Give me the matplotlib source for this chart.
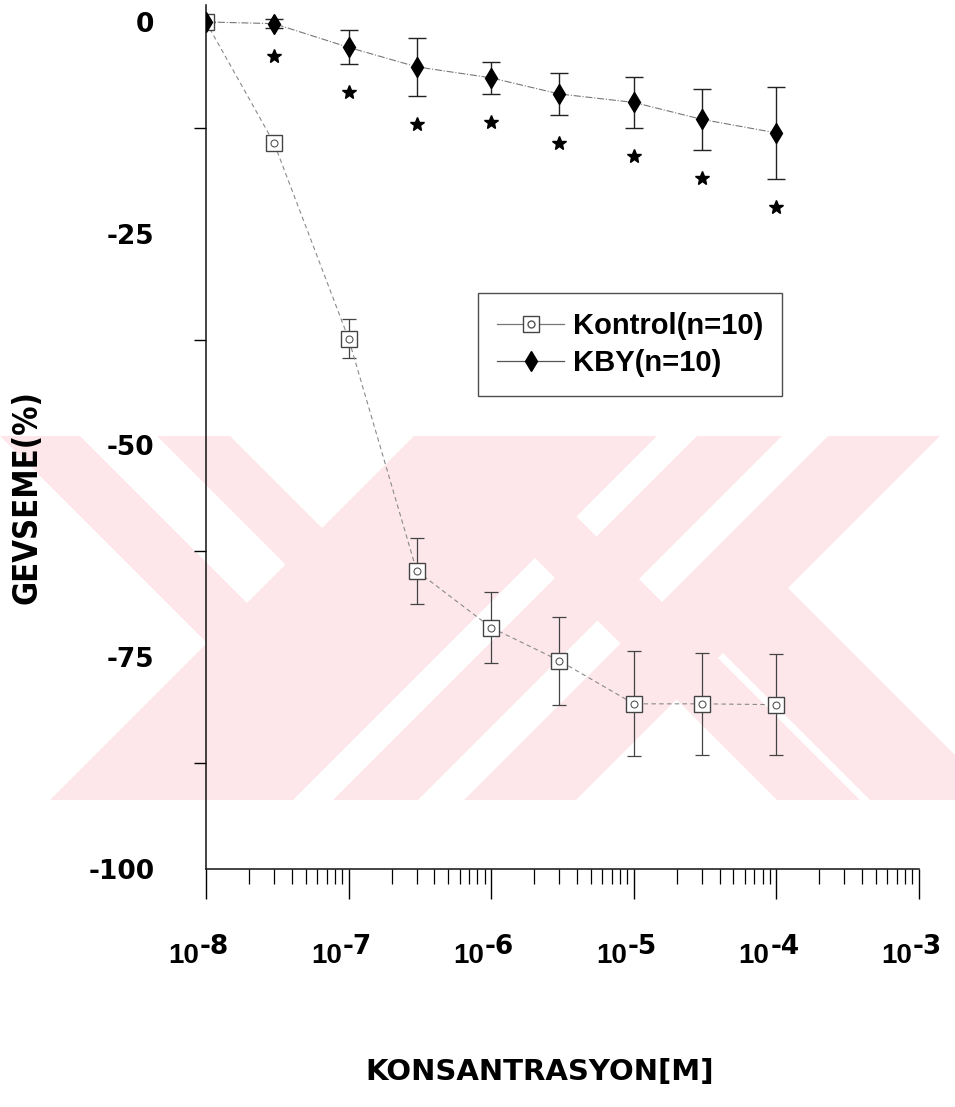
import matplotlib
matplotlib.use('Agg')
import matplotlib.pyplot as plt
from matplotlib.lines import Line2D
from matplotlib.legend_handler import HandlerTuple
from matplotlib.patches import Polygon
from matplotlib.transforms import Affine2D
from matplotlib.ticker import LogLocator, NullFormatter

# concentration-response data (mean and SEM, % relaxation)
conc = [1e-8, 3e-8, 1e-7, 3e-7, 1e-6, 3e-6, 1e-5, 3e-5, 1e-4]
kontrol = [0, -14.3, -37.4, -64.8, -71.5, -75.4, -80.5, -80.5, -80.6]
kontrol_err = [0, 0.8, 2.3, 3.9, 4.2, 5.2, 6.2, 6.0, 6.0]
kby = [0, -0.2, -3.0, -5.3, -6.6, -8.5, -9.5, -11.5, -13.1]
kby_err = [0, 0.5, 2.0, 3.4, 1.9, 2.5, 3.0, 3.6, 5.4]

series_labels = ['Kontrol(n=10)', 'KBY(n=10)']
ytick_vals = [0, -25, -50, -75, -100]
ytick_minor = [-12.5, -37.5, -62.5, -87.5]
xtick_exps = [-8, -7, -6, -5, -4, -3]
xlabel = 'KONSANTRASYON[M]'
ylabel = 'GEVSEME(%)'

W, H = 955, 1107
fig = plt.figure(figsize=(W / 100, H / 100), dpi=100)
px = Affine2D().scale(1 / W, -1 / H).translate(0, 1) + fig.transFigure


def clip(poly, f):
    # keep the part of poly where f(x, y) >= 0
    out = []
    for i in range(len(poly)):
        p, q = poly[i - 1], poly[i]
        fp, fq = f(*p), f(*q)
        if fq >= 0:
            if fp < 0:
                t = fp / (fp - fq)
                out.append((p[0] + t * (q[0] - p[0]), p[1] + t * (q[1] - p[1])))
            out.append(q)
        elif fp >= 0:
            t = fp / (fp - fq)
            out.append((p[0] + t * (q[0] - p[0]), p[1] + t * (q[1] - p[1])))
    return out


# pale background stamp built from 45 degree stripes
pink = '#fde7eb'
band = [(0, 436), (W, 436), (W, 800), (0, 800)]
# (kind, lo, hi, extra limits) ; kind 'd' -> x - y, 's' -> x + y
stripes = [
    ('d', -436, -356, [('s', None, 862)]),
    ('d', -279, -206, [('s', None, 862)]),
    ('s', 850, 1093, []),
    ('s', 1133, 1218, []),
    ('s', 1264, 1376, []),
    ('d', -23, 60, []),
    ('d', 70, 200, [('s', 1370, None)]),
]


def coord(kind):
    return (lambda x, y: x - y) if kind == 'd' else (lambda x, y: x + y)


for kind, lo, hi, extra in stripes:
    poly = list(band)
    for k, a, b in [(kind, lo, hi)] + extra:
        g = coord(k)
        if a is not None:
            poly = clip(poly, lambda x, y, g=g, a=a: g(x, y) - a)
        if b is not None:
            poly = clip(poly, lambda x, y, g=g, b=b: b - g(x, y))
    if len(poly) >= 3:
        fig.add_artist(Polygon(poly, closed=True, transform=px,
                               facecolor=pink, edgecolor='none', zorder=-5))

ax = fig.add_axes([206 / W, 1 - 869 / H, 713 / W, 864 / H])
ax.patch.set_visible(False)
ax.set_xscale('log')
ax.set_xlim(1e-8, 1e-3)
ax.set_ylim(-100, 2)
for s in ['top', 'right']:
    ax.spines[s].set_visible(False)
for s in ['left', 'bottom']:
    ax.spines[s].set_linewidth(1.1)
    ax.spines[s].set_color('#111')

# Kontrol series
ax.errorbar(conc, kontrol, yerr=kontrol_err, fmt='none', ecolor='#444',
            elinewidth=0.9, capsize=5, capthick=0.9, zorder=2)
ax.plot(conc, kontrol, ls=(0, (4, 3)), color='#8a8a8a', lw=0.8, zorder=2)
ax.plot(conc, kontrol, ls='none', marker='s', ms=12, mfc='white',
        mec='#444', mew=1, zorder=3)
ax.plot(conc, kontrol, ls='none', marker='o', ms=5, mfc='none',
        mec='#555', mew=0.8, zorder=4)

# KBY series
ax.errorbar(conc, kby, yerr=kby_err, fmt='none', ecolor='#222',
            elinewidth=1, capsize=6.5, capthick=1, zorder=2)
ax.plot(conc, kby, ls='-.', color='#777', lw=0.8, zorder=2)
ax.plot(conc, kby, ls='none', marker='d', ms=10.5, color='black', zorder=5)

# significance stars below the KBY error bars
star_y = [m - e - 3.3 for m, e in zip(kby[1:], kby_err[1:])]
ax.plot(conc[1:], star_y, ls='none', marker='*', ms=10.5, color='black')

# y axis
ax.set_yticks(ytick_vals)
ax.set_yticklabels([str(v) for v in ytick_vals], family='DejaVu Sans',
                   weight='bold', size=19)
ax.set_yticks(ytick_minor, minor=True)
ax.tick_params(axis='y', which='major', length=0, pad=37)
ax.tick_params(axis='y', which='minor', length=9, width=1, direction='out')

# x axis
ax.xaxis.set_major_locator(LogLocator(base=10, numticks=10))
ax.xaxis.set_minor_locator(LogLocator(base=10, subs=range(2, 10), numticks=10))
ax.xaxis.set_minor_formatter(NullFormatter())
ax.tick_params(axis='x', which='major', length=21.6, width=1,
               direction='out', labelbottom=False)
ax.tick_params(axis='x', which='minor', length=11, width=0.9, direction='out')
for e in xtick_exps:
    ax.annotate('10', xy=(10.0 ** e, 0), xycoords=('data', 'axes fraction'),
                xytext=(-5, -67.7), textcoords='offset points', ha='right',
                va='baseline', family='Liberation Sans', weight='bold',
                size=20, annotation_clip=False)
    ax.annotate(str(e), xy=(10.0 ** e, 0), xycoords=('data', 'axes fraction'),
                xytext=(-4.5, -61), textcoords='offset points', ha='left',
                va='baseline', family='DejaVu Sans', weight='bold',
                size=19, annotation_clip=False)

fig.text(27 / W, 1 - 497 / H, ylabel, rotation=90, ha='center', va='center',
         family='DejaVu Sans', stretch='condensed', weight='bold', size=23.5)
fig.text(540 / W, 1 - 1072 / H, xlabel, ha='center', va='center',
         family='DejaVu Sans', weight='bold', size=21)

# legend
h_kontrol = (Line2D([], [], color='#777', lw=0.9, marker='s', ms=12,
                    mfc='white', mec='#444'),
             Line2D([], [], ls='none', marker='o', ms=5, mfc='none',
                    mec='#555'))
h_kby = Line2D([], [], color='#555', lw=0.9, marker='d', ms=10.5,
               mfc='black', mec='black')
leg = ax.legend([h_kontrol, h_kby], series_labels,
                handler_map={tuple: HandlerTuple(ndivide=1)},
                loc='upper left', bbox_to_anchor=(478 / W, 1 - 293 / H),
                bbox_transform=fig.transFigure, borderaxespad=0,
                frameon=True, fancybox=False, edgecolor='#222',
                prop=dict(family='Liberation Sans', weight='bold', size=21),
                handlelength=2.3, handletextpad=0.3, borderpad=0.65,
                labelspacing=0.3)
leg.get_frame().set_linewidth(1.0)

fig.savefig('out.png', dpi=100)
